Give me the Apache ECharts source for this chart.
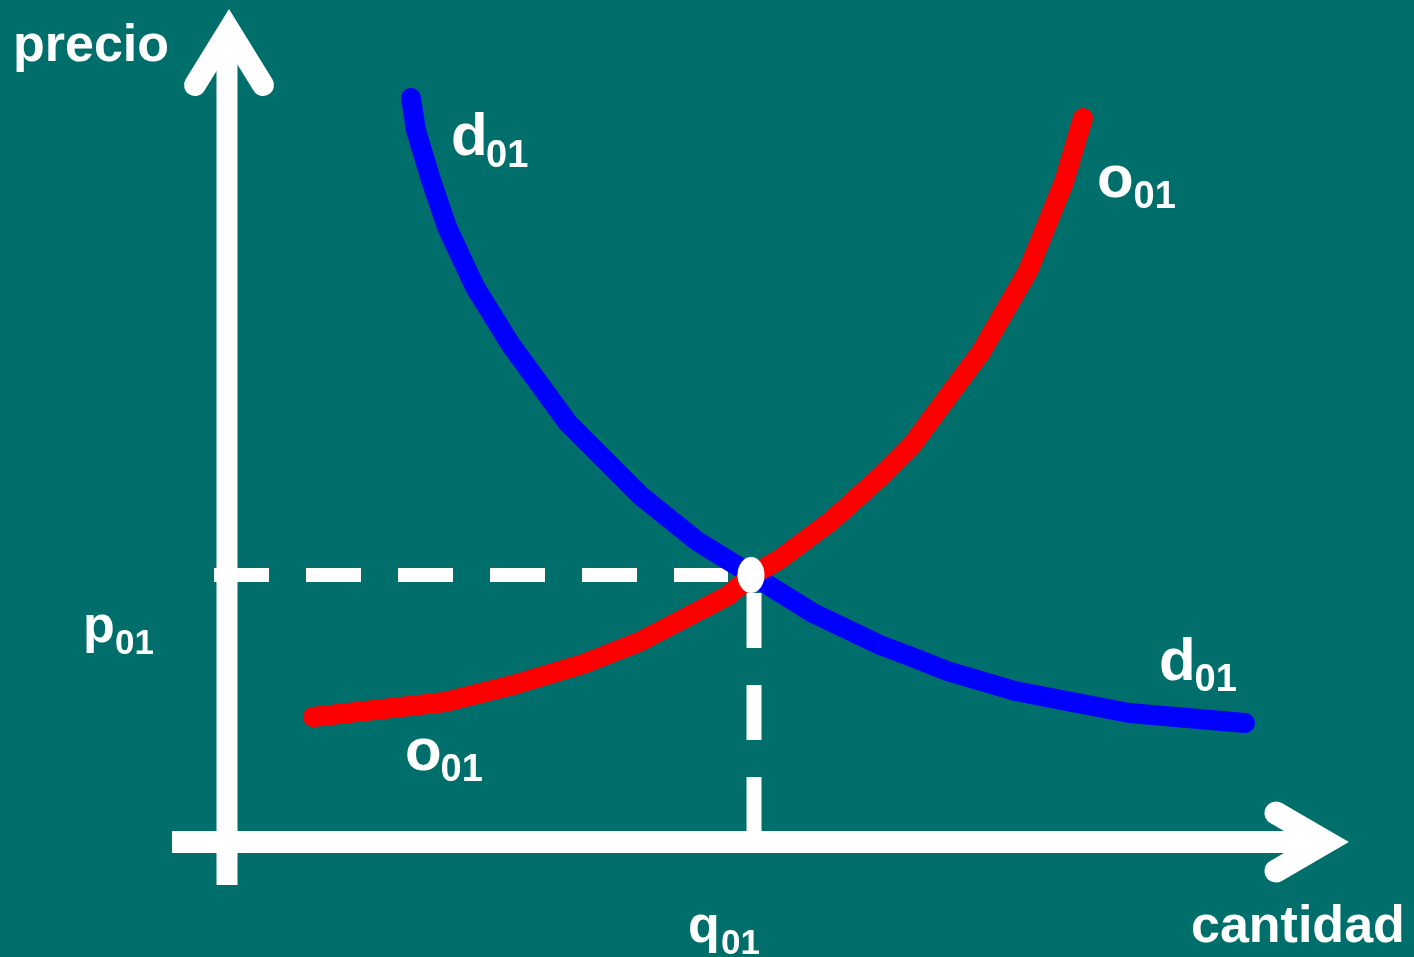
<!DOCTYPE html>
<html>
<head>
<meta charset="utf-8">
<script src="https://cdn.jsdelivr.net/npm/echarts@6/dist/echarts.min.js"></script>
<style>
  html, body { margin: 0; padding: 0; background: #006e6a; }
  #chart-container { width: 1414px; height: 957px; }
</style>
</head>
<body>
<div id="chart-container"></div>
<script>
// units: origin where the two axes cross, 1 unit = 10 px
var demanda = [
  [18.4, 74.4], [18.9, 71.2], [20.4, 66.2], [22.0, 61.5], [24.8, 55.5],
  [28.4, 49.7], [34.1, 41.9], [41.4, 34.6], [47.0, 30.1], [52.5, 26.7],
  [58.6, 22.9], [65.3, 19.7], [68.5, 18.5], [72.0, 17.1], [78.8, 15.1],
  [90.2, 12.9], [101.8, 11.9]
];
var oferta = [
  [8.6, 12.5], [21.8, 14.0], [28.6, 15.7], [35.6, 17.8], [41.2, 20.0],
  [50.2, 24.7], [52.5, 26.7], [55.3, 28.3], [60.4, 32.1], [65.3, 36.5],
  [68.5, 39.7], [71.6, 43.9], [75.4, 49.0], [80.1, 57.1], [83.7, 66.0],
  [85.6, 72.4]
];
var q01 = 52.5;
var p01 = 26.7;

var ejeY = [[0, -4.3], [0, 80.5]];
var ejeX = [[-5.5, 0], [108, 0]];
var flechaY = [[-3.2, 75.7], [0.2, 81.2], [3.6, 75.7]];
var flechaX = [[104.9, 2.9], [109.9, 0], [104.9, -2.9]];
var guiaP = [[-1.3, p01], [50.1, p01]];
var guiaQ = [[q01 + 0.2, 24.9], [q01 + 0.2, 1.0]];

// text labels: main letter and its subscript
var letras = [
  ['precio', -21.4, 79.5], ['cantidad', 96.4, -8.6],
  ['d', 22.4, 70.4], ['o', 87.0, 66.2], ['d', 93.2, 17.9], ['o', 17.8, 8.9]
];
var letrasEje = [['p', -14.4, 21.4], ['q', 46.1, -8.6]];
var subCurvas = [['01', 25.9, 68.5], ['01', 90.65, 64.4], ['01', 96.75, 16.1], ['01', 21.35, 7.1]];
var subEje = [['01', -11.2, 19.8], ['01', 49.4, -10.2]];

var dom = document.getElementById('chart-container');
var myChart = echarts.init(dom, null, { renderer: 'canvas' });

var font = 'Liberation Sans';

function linea(data, color, width, extra) {
  var s = {
    type: 'line',
    data: data,
    symbol: 'none',
    silent: true,
    lineStyle: { color: color, width: width, cap: 'butt', join: 'round', opacity: 1 }
  };
  Object.assign(s.lineStyle, extra || {});
  return s;
}

function textos(list, size) {
  return {
    type: 'scatter',
    symbolSize: 0,
    silent: true,
    z: 10,
    itemStyle: { opacity: 1 },
    data: list.map(function (t) { return { name: t[0], value: [t[1], t[2]] }; }),
    label: {
      show: true,
      position: [0, 0],
      align: 'left',
      verticalAlign: 'middle',
      formatter: '{b}',
      color: '#ffffff',
      opacity: 1,
      fontFamily: font,
      fontWeight: 'bold',
      fontSize: size
    }
  };
}

var option = {
  backgroundColor: '#006e6a',
  animation: false,
  grid: { left: 0, right: 0, top: 0, bottom: 0 },
  xAxis: { type: 'value', min: -22.7, max: 118.7, show: false },
  yAxis: { type: 'value', min: -11.5, max: 84.2, show: false },
  series: [
    linea(ejeY, '#ffffff', 21),
    linea(ejeX, '#ffffff', 22),
    linea(flechaY, '#ffffff', 22, { cap: 'round', join: 'miter' }),
    linea(flechaX, '#ffffff', 23, { cap: 'round', join: 'miter' }),
    linea(guiaP, '#ffffff', 14, { type: [55, 37] }),
    linea(guiaQ, '#ffffff', 15, { type: [55, 37] }),
    linea(demanda, '#0000ff', 20, { cap: 'round' }),
    linea(oferta, '#ff0000', 20, { cap: 'round' }),
    {
      type: 'scatter',
      data: [[q01 - 0.1, p01]],
      symbol: 'circle',
      symbolSize: [27, 36],
      silent: true,
      z: 5,
      itemStyle: { color: '#ffffff', opacity: 1 }
    },
    textos(letras.slice(0, 2), 52),
    textos(letras.slice(2), 60),
    textos(letrasEje, 52),
    textos(subCurvas, 38),
    textos(subEje, 35)
  ]
};

myChart.setOption(option);
window.addEventListener('resize', myChart.resize);
</script>
</body>
</html>
